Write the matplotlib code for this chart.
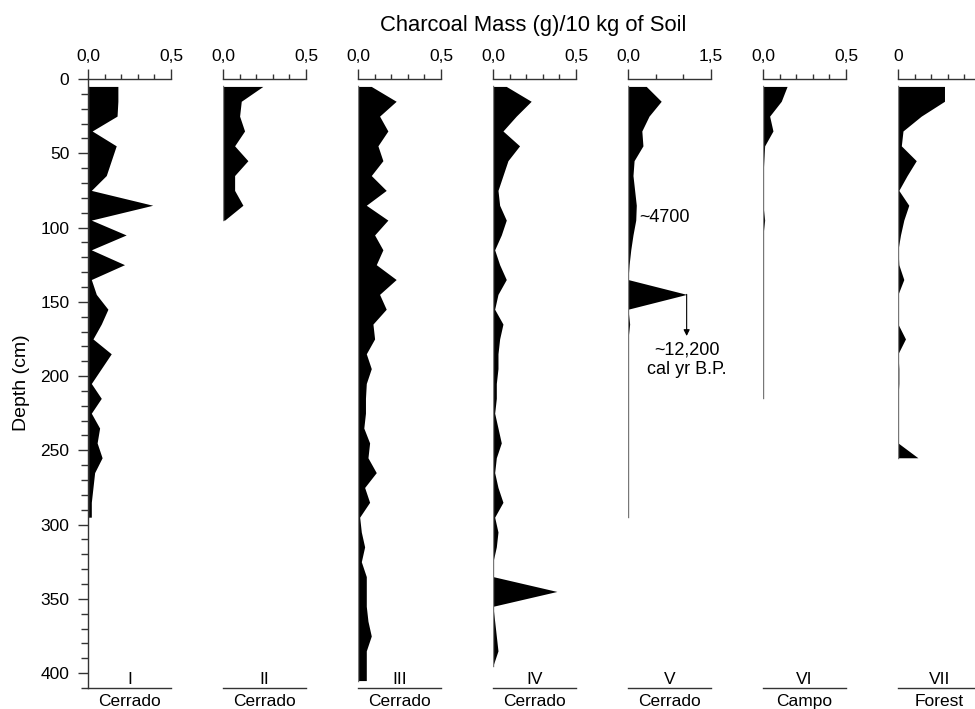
import matplotlib
matplotlib.use("Agg")
import matplotlib.pyplot as plt
from matplotlib.ticker import MultipleLocator, FixedLocator

plt.rcParams['font.family'] = ['Liberation Sans', 'DejaVu Sans']

# profundidades das amostras (cm)
depth = [5, 15, 25, 35, 45, 55, 65, 75, 85, 95, 105, 115, 125, 135, 145, 155,
         165, 175, 185, 195, 205, 215, 225, 235, 245, 255, 265, 275, 285, 295,
         305, 315, 325, 335, 345, 355, 365, 375, 385, 395, 405]

# massa de carvão (g)/10 kg de solo por perfil
prof_I = [0.18, 0.18, 0.175, 0.025, 0.17, 0.14, 0.11, 0.02, 0.39, 0.02, 0.23,
          0.02, 0.22, 0.02, 0.05, 0.12, 0.08, 0.03, 0.14, 0.08, 0.02, 0.08,
          0.02, 0.07, 0.055, 0.085, 0.04, 0.03, 0.02, 0.02]
prof_II = [0.24, 0.11, 0.10, 0.13, 0.07, 0.15, 0.07, 0.07, 0.12, 0.01]
prof_III = [0.08, 0.23, 0.13, 0.18, 0.12, 0.15, 0.08, 0.17, 0.05, 0.18, 0.10,
            0.15, 0.11, 0.23, 0.13, 0.17, 0.09, 0.10, 0.05, 0.08, 0.05, 0.045,
            0.045, 0.035, 0.07, 0.06, 0.11, 0.04, 0.07, 0.01, 0.02, 0.04, 0.02,
            0.05, 0.05, 0.05, 0.06, 0.08, 0.05, 0.05, 0.05]
prof_IV = [0.08, 0.23, 0.14, 0.06, 0.16, 0.09, 0.06, 0.03, 0.04, 0.08, 0.05,
           0.01, 0.04, 0.08, 0.03, 0.01, 0.06, 0.04, 0.03, 0.03, 0.02, 0.02,
           0.01, 0.03, 0.05, 0.02, 0.01, 0.03, 0.06, 0.01, 0.03, 0.02, 0.0,
           0.0, 0.385, 0.0, 0.01, 0.02, 0.03, 0.0]
prof_V = [0.33, 0.60, 0.38, 0.25, 0.27, 0.11, 0.09, 0.12, 0.15, 0.14, 0.09,
          0.05, 0.02, 0.0, 1.06, 0.0, 0.03, 0.0, 0.0, 0.0, 0.0, 0.0, 0.0, 0.0,
          0.0, 0.0, 0.0, 0.0, 0.0, 0.0]
prof_VI = [0.145, 0.11, 0.04, 0.06, 0.01, 0.005, 0.0, 0.0, 0.0, 0.01, 0.0,
           0.0, 0.0, 0.0, 0.0, 0.0, 0.0, 0.0, 0.0, 0.0, 0.0, 0.0]
prof_VII = [2.8, 2.8, 1.4, 0.3, 0.2, 1.1, 0.55, 0.05, 0.65, 0.35, 0.15, 0.0,
            0.05, 0.35, 0.0, 0.0, 0.0, 0.45, 0.0, 0.05, 0.05, 0.0, 0.0, 0.0,
            0.0, 1.2]

perfis = [prof_I, prof_II, prof_III, prof_IV, prof_V, prof_VI, prof_VII]
numerais = ["I", "II", "III", "IV", "V", "VI", "VII"]
vegetacao = ["Cerrado", "Cerrado", "Cerrado", "Cerrado", "Cerrado", "Campo", "Forest"]
escala_max = [0.5, 0.5, 0.5, 0.5, 1.5, 0.5, 5]
menores = [[0.1, 0.2, 0.3, 0.4]] * 4 + [[0.5, 1.0]] + [[0.1, 0.2, 0.3, 0.4]] + [[1, 2, 3, 4]]
# o rótulo final do perfil VII fica fora da figura na referência
rotulos = [["0,0", "0,5"]] * 4 + [["0,0", "1,5"]] + [["0,0", "0,5"]] + [["0", ""]]

W, H = 975, 709
fig = plt.figure(figsize=(W / 100, H / 100), dpi=100)

x0s = [88, 223, 358, 493, 628, 763, 898]
cor_eixo = "#333333"

for i, vals in enumerate(perfis):
    ax = fig.add_axes([x0s[i] / W, 1 - 688 / H, 83 / W, 609 / H])
    d = depth[:len(vals)]
    ax.fill_betweenx(d, 0, vals, color="black", lw=0)
    ax.plot([0, 0], [d[0], d[-1]], color="#777777", lw=1)
    ax.set_ylim(410, 0)
    ax.set_xlim(0, escala_max[i])

    ax.xaxis.tick_top()
    ax.set_xticks([0, escala_max[i]])
    ax.set_xticklabels(rotulos[i])
    ax.xaxis.set_minor_locator(FixedLocator(menores[i]))
    ax.tick_params(axis="x", which="major", direction="out", length=7.5, width=1,
                   color=cor_eixo, labelsize=12.5, pad=3.5)
    ax.tick_params(axis="x", which="minor", direction="out", length=3.5, width=1,
                   color=cor_eixo)

    ax.spines["right"].set_visible(False)
    for lado in ["top", "bottom", "left"]:
        ax.spines[lado].set_color(cor_eixo)
        ax.spines[lado].set_linewidth(1)

    if i == 0:
        ax.yaxis.set_major_locator(MultipleLocator(50))
        ax.yaxis.set_minor_locator(MultipleLocator(10))
        ax.tick_params(axis="y", which="major", direction="out", length=7.5,
                       width=1, color=cor_eixo, labelsize=12.5, pad=6)
        ax.tick_params(axis="y", which="minor", direction="out", length=5,
                       width=1, color=cor_eixo)
    else:
        ax.spines["left"].set_visible(False)
        ax.set_yticks([])

    ax.annotate(numerais[i], xy=(0.5, 0), xycoords="axes fraction",
                xytext=(0, 1), textcoords="offset points",
                ha="center", va="bottom", fontsize=12.5)
    ax.annotate(vegetacao[i], xy=(0.5, 0), xycoords="axes fraction",
                xytext=(0, -4), textcoords="offset points",
                ha="center", va="top", fontsize=12.5)
    ax.patch.set_alpha(0)

    if i == 4:
        ax.text(0.2, 93, "~4700", ha="left", va="center", fontsize=13)
        ax.annotate("", xy=(1.06, 173), xytext=(1.06, 145),
                    arrowprops=dict(arrowstyle="-|>", color="black", lw=0.8,
                                    mutation_scale=9, shrinkA=0, shrinkB=0))
        ax.text(1.06, 177, "~12,200\ncal yr B.P.", ha="center", va="top",
                fontsize=13, linespacing=1.15)

fig.text(533 / W, 1 - 25 / H, "Charcoal Mass (g)/10 kg of Soil",
         ha="center", va="center", fontsize=15.8)
fig.text(22 / W, 1 - 383 / H, "Depth (cm)", rotation=90,
         ha="center", va="center", fontsize=14)

fig.savefig("out.png", dpi=100)
